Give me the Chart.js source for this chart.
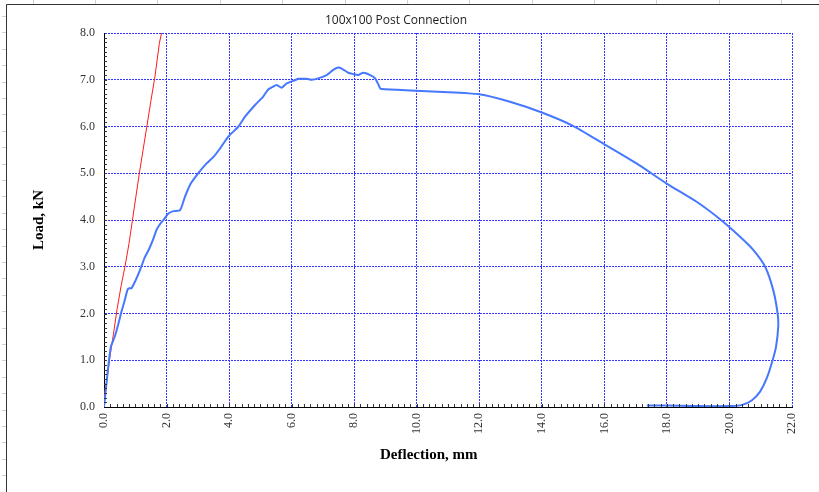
<!DOCTYPE html>
<html>
<head>
<meta charset="utf-8">
<title>100x100 Post Connection</title>
<script src="https://cdn.jsdelivr.net/npm/chart.js@4.4.1/dist/chart.umd.min.js"></script>
<style>
    html, body { margin: 0; padding: 0; background: #fff; }
    #wrap { position: relative; width: 819px; height: 492px; }
</style>
</head>
<body>
<div id="wrap"><canvas id="chartPostConnection"></canvas></div>
<script>
// curva de ensayo (deflexion mm / carga kN)
const blueX = [0.00, 0.03, 0.09, 0.16, 0.22, 0.30, 0.35, 0.42, 0.49, 0.55, 0.62, 0.70, 0.76, 0.82, 0.88,
    0.99, 1.07, 1.15, 1.22, 1.29, 1.45, 1.58, 1.68, 1.80, 1.90, 2.06, 2.22, 2.43, 2.59, 2.75, 2.90, 3.05,
    3.28, 3.50, 3.71, 3.97, 4.30, 4.51, 4.83, 5.09, 5.25, 5.40, 5.52, 5.68, 5.84, 6.11, 6.21, 6.48, 6.64,
    6.85, 7.12, 7.33, 7.49, 7.60, 7.81, 7.97, 8.13, 8.29, 8.51, 8.67, 8.83, 8.88, 9.79, 10.85, 12.00,
    12.98, 14.00, 15.01, 16.00, 17.03, 17.99, 18.95, 19.75, 20.34, 20.76, 21.14, 21.40, 21.54, 21.56,
    21.49, 21.38, 21.19, 20.98, 20.71, 20.39, 20.02, 18.85, 17.99, 17.36];
const blueY = [0.00, 0.19, 0.58, 1.00, 1.29, 1.43, 1.52, 1.68, 1.86, 2.02, 2.18, 2.38, 2.52, 2.54, 2.54,
    2.68, 2.80, 2.93, 3.05, 3.18, 3.39, 3.60, 3.79, 3.92, 4.00, 4.14, 4.19, 4.21, 4.50, 4.75, 4.90, 5.03,
    5.21, 5.35, 5.53, 5.78, 6.00, 6.21, 6.46, 6.64, 6.79, 6.85, 6.89, 6.83, 6.92, 6.99, 7.02, 7.02, 7.00,
    7.03, 7.10, 7.21, 7.26, 7.24, 7.15, 7.12, 7.10, 7.15, 7.10, 7.03, 6.82, 6.80, 6.77, 6.74, 6.69,
    6.53, 6.30, 6.01, 5.62, 5.21, 4.78, 4.39, 3.99, 3.64, 3.36, 3.00, 2.50, 2.00, 1.72,
    1.29, 1.00, 0.61, 0.33, 0.14, 0.04, 0.02, 0.02, 0.03, 0.03];

// rigidez inicial
const redX = [0.00, 0.10, 0.19, 0.30, 0.42, 0.55, 0.67, 0.80, 0.91, 1.02, 1.13, 1.25, 1.37, 1.50, 1.63, 1.77, 1.84];
const redY = [0.20, 0.62, 1.08, 1.55, 2.10, 2.60, 3.00, 3.50, 4.00, 4.50, 5.00, 5.50, 6.00, 6.55, 7.07, 7.78, 8.00];

const xMin = 0, xMax = 22, xStep = 2, xMinorStep = 0.2;
const yMin = 0, yMax = 8, yStep = 1, yMinorStep = 0.1;

const chartTitle = '100x100 Post Connection';
const xTitle = 'Deflection, mm';
const yTitle = 'Load, kN';

function toPoints(xs, ys) {
    return xs.map((x, i) => ({ x: x, y: ys[i] }));
}

// marco y regla de la hoja
const marcoPlugin = {
    id: 'marco',
    beforeDraw(chart) {
        const ctx = chart.ctx;
        ctx.save();
        ctx.strokeStyle = '#d0d0d0';
        ctx.lineWidth = 1;
        ctx.beginPath();
        for (let x = 32.5; x < 819; x += 62.4) {
            ctx.moveTo(Math.round(x) + 0.5, 0);
            ctx.lineTo(Math.round(x) + 0.5, 4);
        }
        for (let y = 16; y < 492; y += 16.4) {
            ctx.moveTo(2, Math.round(y) + 0.5);
            ctx.lineTo(6, Math.round(y) + 0.5);
        }
        ctx.stroke();
        ctx.strokeStyle = '#333';
        ctx.beginPath();
        ctx.moveTo(6.5, 492);
        ctx.lineTo(6.5, 4.5);
        ctx.lineTo(819, 4.5);
        ctx.stroke();
        ctx.restore();
    }
};

// marcas menores hacia dentro + titulo del eje x
const menoresPlugin = {
    id: 'menores',
    afterDraw(chart) {
        const ctx = chart.ctx;
        const sx = chart.scales.x;
        const sy = chart.scales.y;
        const area = chart.chartArea;
        ctx.save();
        ctx.strokeStyle = '#333';
        ctx.lineWidth = 1;
        ctx.beginPath();
        const nx = Math.round((xMax - xMin) / xMinorStep);
        for (let i = 1; i < nx; i++) {
            const px = Math.round(sx.getPixelForValue(xMin + i * xMinorStep)) + 0.5;
            ctx.moveTo(px, area.bottom);
            ctx.lineTo(px, area.bottom - 3);
        }
        const ny = Math.round((yMax - yMin) / yMinorStep);
        for (let i = 1; i < ny; i++) {
            const py = Math.round(sy.getPixelForValue(yMin + i * yMinorStep)) + 0.5;
            ctx.moveTo(area.left, py);
            ctx.lineTo(area.left + 3, py);
        }
        ctx.stroke();

        ctx.fillStyle = '#000';
        ctx.font = 'bold 15px "Liberation Serif", "Times New Roman", serif';
        ctx.textAlign = 'center';
        ctx.textBaseline = 'middle';
        ctx.fillText(xTitle, area.left + (area.right - area.left) * 0.472, 455);
        ctx.restore();
    }
};

new Chart(document.getElementById('chartPostConnection').getContext('2d'), {
    type: 'scatter',
    data: {
        datasets: [{
            label: 'Ensayo',
            data: toPoints(blueX, blueY),
            showLine: true,
            borderColor: '#4678ff',
            backgroundColor: '#4678ff',
            borderWidth: 2,
            pointRadius: 0,
            tension: 0.2
        }, {
            label: 'Rigidez',
            data: toPoints(redX, redY),
            showLine: true,
            borderColor: '#ff1a1a',
            backgroundColor: '#ff1a1a',
            borderWidth: 1,
            pointRadius: 0,
            tension: 0
        }]
    },
    options: {
        responsive: true,
        maintainAspectRatio: false,
        animation: false,
        layout: {
            padding: { left: 0, right: 27, top: 0, bottom: 0 }
        },
        scales: {
            x: {
                type: 'linear',
                min: xMin,
                max: xMax,
                afterFit(scale) { scale.height = 85; },
                ticks: {
                    stepSize: xStep,
                    autoSkip: false,
                    minRotation: 90,
                    maxRotation: 90,
                    padding: 6,
                    color: '#333',
                    font: { family: '"Liberation Serif", "Times New Roman", serif', size: 12 },
                    callback: function (value) {
                        return value.toFixed(1);
                    }
                },
                grid: {
                    color: '#3535ff',
                    lineWidth: 1,
                    drawTicks: false
                },
                border: {
                    display: true,
                    color: '#000',
                    width: 1,
                    dash: [2, 1]
                }
            },
            y: {
                min: yMin,
                max: yMax,
                afterFit(scale) { scale.width = 104; },
                ticks: {
                    stepSize: yStep,
                    padding: 9,
                    color: '#333',
                    font: { family: '"Liberation Serif", "Times New Roman", serif', size: 12 },
                    callback: function (value) {
                        return value.toFixed(1);
                    }
                },
                grid: {
                    color: '#3535ff',
                    lineWidth: 1,
                    drawTicks: false
                },
                border: {
                    display: true,
                    color: '#000',
                    width: 1,
                    dash: [2, 1]
                },
                title: {
                    display: true,
                    text: yTitle,
                    color: '#000',
                    padding: { top: 30, bottom: 0 },
                    font: { family: '"Liberation Serif", "Times New Roman", serif', size: 15, weight: 'bold' }
                }
            }
        },
        plugins: {
            legend: {
                display: false
            },
            tooltip: {
                enabled: false
            },
            title: {
                display: true,
                text: chartTitle,
                color: '#222',
                padding: { top: 13, bottom: 5.6 },
                font: { family: '"Open Sans", "Noto Sans", sans-serif', size: 12, weight: 'normal' }
            }
        }
    },
    plugins: [marcoPlugin, menoresPlugin]
});
</script>
</body>
</html>
